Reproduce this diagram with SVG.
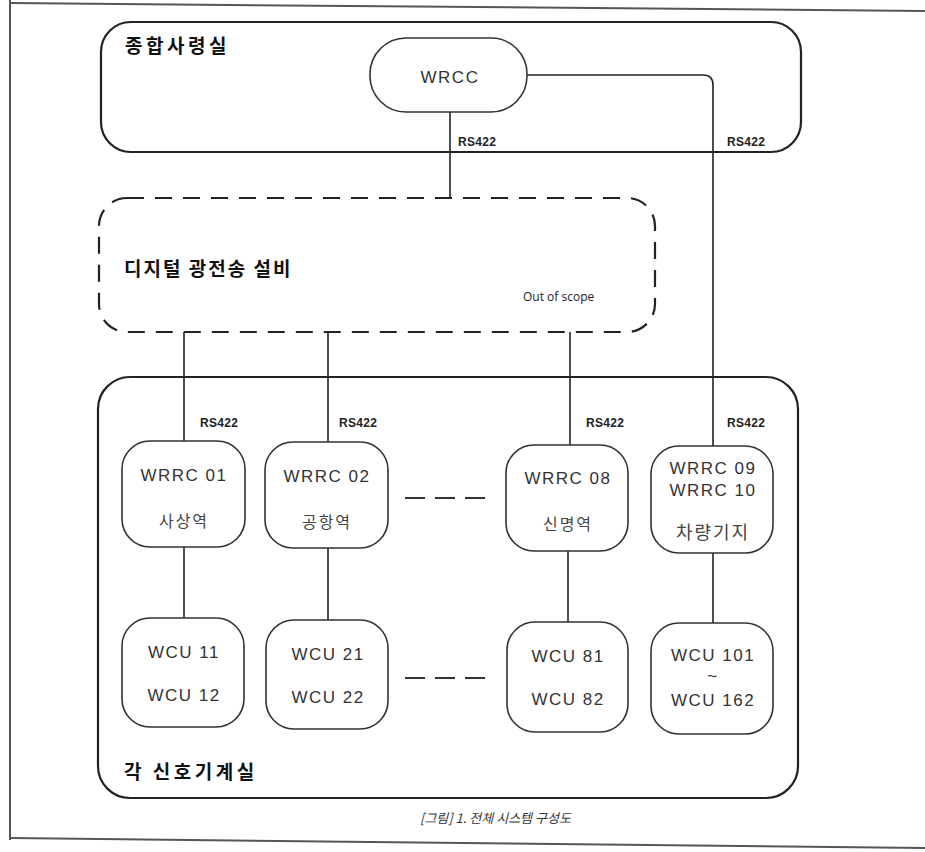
<svg xmlns="http://www.w3.org/2000/svg" width="925" height="852" viewBox="0 0 925 852">
<style>
.frame{fill:none;stroke:#555;stroke-width:2}
.box{fill:none;stroke:#222;stroke-width:2.2}
.dash{fill:none;stroke:#222;stroke-width:2.2;stroke-dasharray:17 11}
.node{fill:#fff;stroke:#333;stroke-width:1.6}
.wire{fill:none;stroke:#222;stroke-width:1.6}
.gap{fill:none;stroke:#333;stroke-width:2}
.t{font-family:"Liberation Sans","Noto Sans CJK KR",sans-serif;font-size:17px;fill:#333;text-anchor:middle;letter-spacing:1.5px}
.k{font-family:"Noto Sans CJK KR",sans-serif;font-size:16px;fill:#444;text-anchor:middle;letter-spacing:2px}
.h{font-family:"Noto Sans CJK KR",sans-serif;font-size:19px;font-weight:bold;fill:#111;letter-spacing:3.5px}
.rs{font-family:"Liberation Sans",sans-serif;font-size:12px;font-weight:bold;fill:#222;letter-spacing:0.3px}
.oos{font-family:"Open Sans","Liberation Sans",sans-serif;font-size:12px;fill:#222}
.cap{font-family:"Noto Sans CJK KR",sans-serif;font-size:13px;font-style:italic;fill:#333}
</style>
<rect width="925" height="852" fill="#fff"/>
<g id="page-frame">
<line class="frame" x1="10" y1="0" x2="10" y2="840"/>
<line class="frame" x1="10" y1="3" x2="925" y2="11"/>
<line class="frame" x1="10" y1="838" x2="925" y2="848"/>
</g>
<g id="command-center">
<rect class="box" x="101" y="22" width="700" height="130" rx="30" ry="30"/>
<text class="h" x="125" y="53">종합사령실</text>
</g>
<g id="transmission">
<rect class="dash" x="99" y="198" width="556" height="134" rx="28" ry="28"/>
<text class="h" x="124" y="276" style="letter-spacing:2px">디지털 광전송 설비</text>
<text class="oos" x="523" y="301">Out of scope</text>
</g>
<g id="signal-rooms">
<rect class="box" x="98" y="377" width="700" height="421" rx="32" ry="32"/>
<text class="h" x="124" y="779">각 신호기계실</text>
</g>
<g id="connectors">
<line class="wire" x1="450" y1="112" x2="450" y2="199"/>
<path class="wire" d="M527 75 H703 Q713 75 713 85 V446"/>
<line class="wire" x1="184" y1="332" x2="184" y2="441"/>
<line class="wire" x1="328" y1="332" x2="328" y2="442"/>
<line class="wire" x1="570" y1="332" x2="570" y2="445"/>
<line class="wire" x1="184" y1="547" x2="184" y2="618"/>
<line class="wire" x1="328" y1="548" x2="328" y2="620"/>
<line class="wire" x1="568" y1="551" x2="568" y2="622"/>
<line class="wire" x1="713" y1="553" x2="713" y2="623"/>
<line class="gap" x1="405" y1="498" x2="425" y2="498"/>
<line class="gap" x1="435" y1="498" x2="455" y2="498"/>
<line class="gap" x1="465" y1="498" x2="485" y2="498"/>
<line class="gap" x1="405" y1="678" x2="425" y2="678"/>
<line class="gap" x1="435" y1="678" x2="455" y2="678"/>
<line class="gap" x1="465" y1="678" x2="485" y2="678"/>
<text class="rs" x="458" y="146">RS422</text>
<text class="rs" x="727" y="146">RS422</text>
<text class="rs" x="200" y="427">RS422</text>
<text class="rs" x="339" y="427">RS422</text>
<text class="rs" x="586" y="427">RS422</text>
<text class="rs" x="727" y="427">RS422</text>
</g>
<g id="wrcc">
<rect class="node" x="370" y="38" width="157" height="74" rx="36" ry="36"/>
<text class="t" x="450" y="83">WRCC</text>
</g>
<g id="wrrc01">
<rect class="node" x="122" y="441" width="123" height="106" rx="28" ry="28"/>
<text class="t" x="184" y="481">WRRC 01</text>
<text class="k" x="184" y="527">사상역</text>
</g>
<g id="wrrc02">
<rect class="node" x="265" y="442" width="123" height="106" rx="28" ry="28"/>
<text class="t" x="327" y="482">WRRC 02</text>
<text class="k" x="327" y="528">공항역</text>
</g>
<g id="wrrc08">
<rect class="node" x="506" y="445" width="122" height="106" rx="28" ry="28"/>
<text class="t" x="568" y="484">WRRC 08</text>
<text class="k" x="568" y="530">신명역</text>
</g>
<g id="wrrc0910">
<rect class="node" x="651" y="446" width="122" height="107" rx="28" ry="28"/>
<text class="t" x="713" y="474">WRRC 09</text>
<text class="t" x="713" y="496">WRRC 10</text>
<text class="k" x="713" y="539" style="font-size:18px">차량기지</text>
</g>
<g id="wcu1">
<rect class="node" x="122" y="618" width="122" height="109" rx="28" ry="28"/>
<text class="t" x="184" y="658">WCU 11</text>
<text class="t" x="184" y="701">WCU 12</text>
</g>
<g id="wcu2">
<rect class="node" x="266" y="620" width="122" height="109" rx="28" ry="28"/>
<text class="t" x="328" y="660">WCU 21</text>
<text class="t" x="328" y="703">WCU 22</text>
</g>
<g id="wcu8">
<rect class="node" x="507" y="622" width="121" height="110" rx="28" ry="28"/>
<text class="t" x="568" y="662">WCU 81</text>
<text class="t" x="568" y="705">WCU 82</text>
</g>
<g id="wcu10">
<rect class="node" x="651" y="623" width="122" height="111" rx="28" ry="28"/>
<text class="t" x="713" y="661">WCU 101</text>
<text class="t" x="713" y="682">~</text>
<text class="t" x="713" y="706">WCU 162</text>
</g>
<text class="cap" x="420" y="823">[그림] 1. 전체 시스템 구성도</text>
</svg>
